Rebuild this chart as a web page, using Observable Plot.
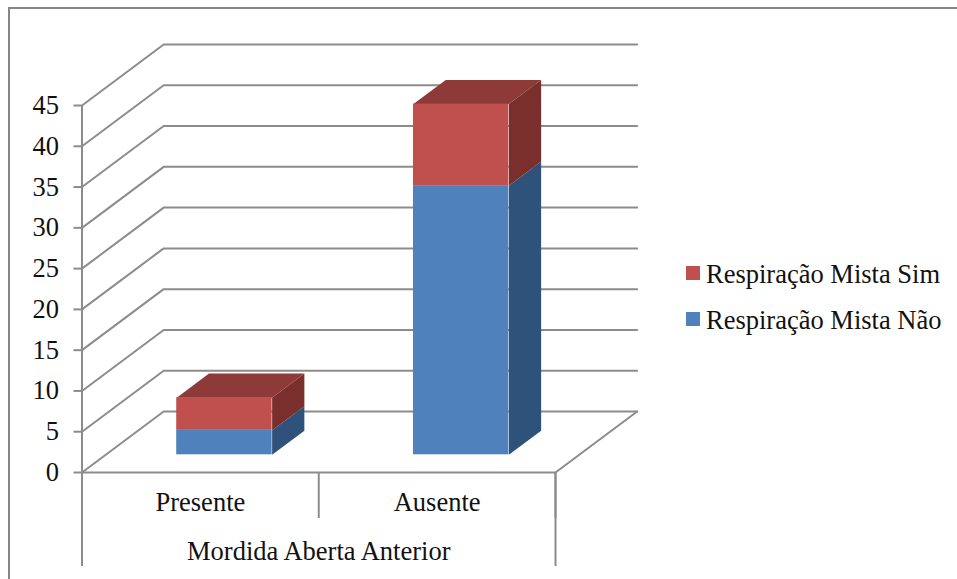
<!DOCTYPE html>
<html lang="pt">
<head>
<meta charset="utf-8">
<script src="https://cdn.jsdelivr.net/npm/d3@7"></script>
<script src="https://cdn.jsdelivr.net/npm/@observablehq/plot@0.6"></script>
<style>
  html, body { margin: 0; padding: 0; background: #fff; }
  #chart { position: relative; width: 957px; height: 579px; overflow: hidden;
           font-family: "Liberation Serif", serif; color: #111; }
  #chart svg { position: absolute; left: 0; top: 0; }
  #edge { position: absolute; left: 8px; top: 7px; right: -4px; bottom: -4px;
          border: 2px solid #868686; }
  #legend { position: absolute; left: 686px; top: 251px; font-size: 26.5px; line-height: 46px; white-space: nowrap; }
  #legend div { display: flex; align-items: center; }
  #legend i { display: block; width: 14px; height: 14px; margin-right: 6px; position: relative; top: -1px; }
</style>
</head>
<body>
<div id="chart"><div id="edge"></div></div>
<script>
const categories = ["Presente", "Ausente"];
const groupLabel = "Mordida Aberta Anterior";
const seriesNames = ["Respiração Mista Não", "Respiração Mista Sim"];
const naoValues = [3, 33];
const simValues = [4, 10];
const yTicks = [0, 5, 10, 15, 20, 25, 30, 35, 40, 45];

const frontColors = ["#4F81BD", "#C0504D"];
const sideColors = ["#2F527A", "#7A2F2D"];
const topColor = "#8E3A38";
const gridColor = "#8C8C8C";
const lineWidth = 2;
const textSize = 26.5;

// Oblique projection: one unit of depth moves a point right (category units) and up (value units).
const depthX = 0.345;
const depthY = 7.48;
const project = (x, v, d) => ({x: x + depthX * d, y: v + depthY * d});

// Bar placement inside its category band and along the depth axis.
const barInset = 0.3;
const barWidth = 0.403;
const depthFront = 0.29;
const depthBack = 0.685;

const polygon = (points, fill) => Plot.line(points, {x: "x", y: "y", fill, stroke: "none"});

// Walls and floor outline.
const gridMarks = yTicks.map((v) =>
  Plot.line([project(0, v, 0), project(0, v, 1), project(2, v, 1)],
    {x: "x", y: "y", stroke: gridColor, strokeWidth: lineWidth}));
const floorEdge = Plot.line([project(2, 0, 1), project(2, 0, 0), project(0, 0, 0)],
  {x: "x", y: "y", stroke: gridColor, strokeWidth: lineWidth});

// Stacked 3D bars: side faces, top face, then front faces.
const barMarks = [];
categories.forEach((cat, i) => {
  const x1 = i + barInset;
  const x2 = x1 + barWidth;
  const segments = [[0, naoValues[i]], [naoValues[i], naoValues[i] + simValues[i]]];
  segments.forEach(([v1, v2], s) => {
    barMarks.push(polygon([
      project(x2, v1, depthFront), project(x2, v1, depthBack),
      project(x2, v2, depthBack), project(x2, v2, depthFront)
    ], sideColors[s]));
  });
  const total = segments[1][1];
  barMarks.push(polygon([
    project(x1, total, depthFront), project(x1, total, depthBack),
    project(x2, total, depthBack), project(x2, total, depthFront)
  ], topColor));
  segments.forEach(([v1, v2], s) => {
    const a = project(x1, v1, depthFront);
    const b = project(x2, v2, depthFront);
    barMarks.push(Plot.rect([{x1: a.x, x2: b.x, y1: a.y, y2: b.y}],
      {x1: "x1", x2: "x2", y1: "y1", y2: "y2", fill: frontColors[s]}));
  });
});

const plot = Plot.plot({
  width: 957,
  height: 579,
  marginLeft: 81.5,
  marginRight: 402,
  marginTop: 105,
  marginBottom: 107,
  style: {fontFamily: "'Liberation Serif', serif", fontSize: `${textSize}px`, color: "#111", background: "transparent"},
  x: {domain: [0, 2]},
  y: {domain: [0, 45]},
  marks: [
    ...gridMarks,
    floorEdge,
    ...barMarks,
    Plot.ruleX([0], {y1: 0, y2: 45, stroke: gridColor, strokeWidth: lineWidth}),
    Plot.axisY({
      ticks: yTicks, tickSize: 8, tickPadding: 15, stroke: gridColor, strokeWidth: lineWidth,
      color: "#111", fontSize: textSize, fontVariant: "normal", label: null, textStroke: "none"
    }),
    // Two-level category axis: separators under the floor, then names and the group title.
    Plot.axisX({ticks: [0, 1, 2], tickSize: 46, tickFormat: () => "", stroke: gridColor, strokeWidth: lineWidth, label: null}),
    Plot.axisX({ticks: [0, 2], tickSize: 94, tickFormat: () => "", stroke: gridColor, strokeWidth: lineWidth, label: null}),
    Plot.axisX({
      ticks: [0.5, 1.5], tickSize: 0, tickPadding: 20, fontSize: textSize,
      tickFormat: (t) => categories[t - 0.5],
      label: groupLabel, labelAnchor: "center", labelArrow: "none", labelOffset: 87
    })
  ]
});

const chart = document.getElementById("chart");
chart.appendChild(plot);

// Legend lists the upper series first.
const legend = document.createElement("div");
legend.id = "legend";
[1, 0].forEach((s) => {
  const row = document.createElement("div");
  const swatch = document.createElement("i");
  swatch.style.background = frontColors[s];
  row.append(swatch, seriesNames[s]);
  legend.appendChild(row);
});
chart.appendChild(legend);
</script>
</body>
</html>
